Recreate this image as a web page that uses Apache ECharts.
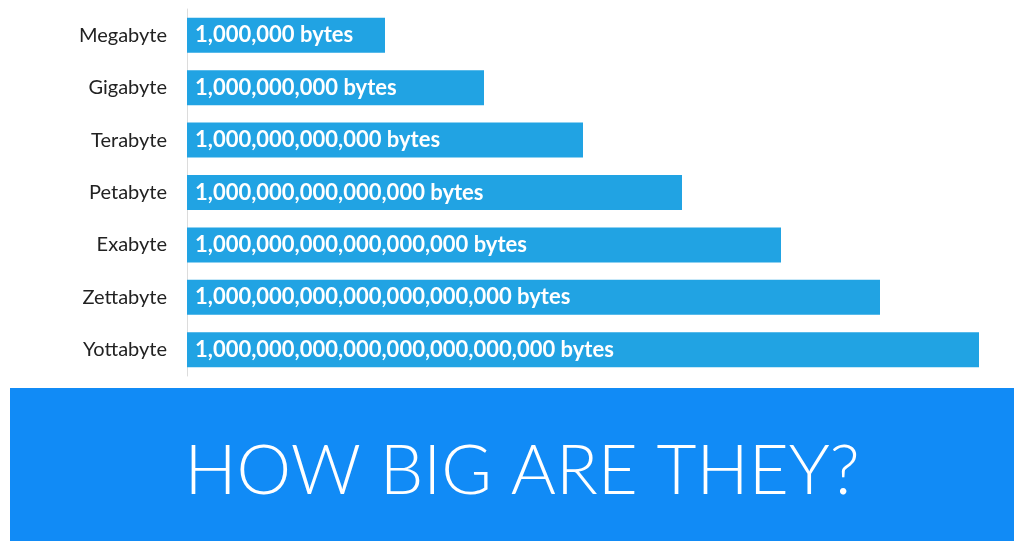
<!DOCTYPE html>
<html>
<head>
<meta charset="utf-8">
<script src="https://cdn.jsdelivr.net/npm/echarts@6/dist/echarts.min.js"></script>
<style>
  html, body { margin: 0; padding: 0; background: #ffffff; }
  #chart { width: 1014px; height: 541px; }
</style>
</head>
<body>
<div id="chart"></div>
<script>
// Units of digital storage, smallest first
const units = ['Megabyte', 'Gigabyte', 'Terabyte', 'Petabyte', 'Exabyte', 'Zettabyte', 'Yottabyte'];
// Size of each unit in bytes
const bytes = [1e6, 1e9, 1e12, 1e15, 1e18, 1e21, 1e24];
const headline = 'HOW BIG ARE THEY?';

// Write 10^n as "1,000,...,000" without floating-point noise
function formatBytes(v) {
  const exp = Math.round(Math.log10(v));
  let s = '1' + '0'.repeat(exp);
  s = s.replace(/\B(?=(\d{3})+(?!\d))/g, ',');
  return s + ' bytes';
}

const chart = echarts.init(document.getElementById('chart'), null, { renderer: 'canvas' });

chart.setOption({
  backgroundColor: '#ffffff',
  animation: false,
  grid: { left: 187, right: 35, top: 9, bottom: 165, containLabel: false },
  xAxis: {
    type: 'log',
    logBase: 10,
    min: 1,
    max: 1e24,
    show: false
  },
  yAxis: {
    type: 'category',
    data: units,
    inverse: true,
    axisLine: { show: true, lineStyle: { color: '#dcdcdc', width: 1 } },
    axisTick: { show: false },
    axisLabel: {
      margin: 20,
      color: '#222222',
      fontSize: 20,
      fontFamily: 'Lato, "Open Sans", sans-serif'
    }
  },
  series: [{
    type: 'bar',
    data: bytes,
    barWidth: 35,
    itemStyle: { color: '#21a3e3' },
    label: {
      show: true,
      position: 'insideLeft',
      distance: 8,
      color: '#ffffff',
      fontSize: 22,
      fontWeight: 'bold',
      fontFamily: 'Lato, "Open Sans", sans-serif',
      formatter: p => formatBytes(p.value)
    }
  }],
  graphic: [
    {
      type: 'rect',
      left: 10,
      top: 388,
      shape: { width: 1004, height: 153 },
      style: { fill: '#118bf6' },
      z: 0
    },
    {
      type: 'text',
      x: 522,
      y: 472,
      style: {
        text: headline,
        fill: '#ffffff',
        font: '300 69px Lato, "Open Sans", sans-serif',
        textAlign: 'center',
        textVerticalAlign: 'middle'
      },
      z: 1
    }
  ]
});
</script>
</body>
</html>
